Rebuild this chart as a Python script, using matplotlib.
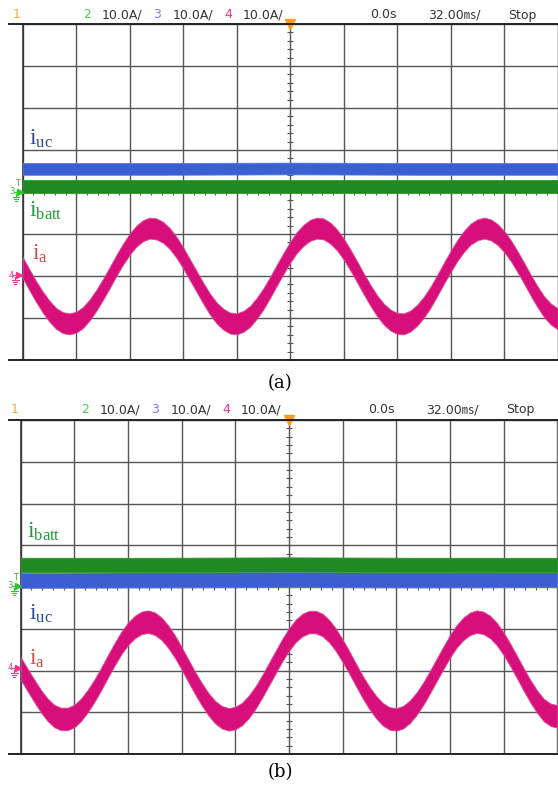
import matplotlib
matplotlib.use("Agg")
import matplotlib.pyplot as plt
from matplotlib.lines import Line2D
import numpy as np

W, H = 558, 788

# scope settings: 32 ms/div, 10 A/div, 10 x 8 divisions
t_ms = list(range(-160, 161, 4))
flat_t = [-160, -80, 0, 80, 160]

# panel (a) -- phase current ia (A, around the ch4 ground), read every 4 ms
ia_a = [2.0, -0.9, -3.7, -6.2, -8.4, -10.1, -11.1, -11.4, -11.0, -9.9,
        -8.1, -5.8, -3.2, -0.4, 2.5, 5.2, 7.6, 9.5, 10.8, 11.4,
        11.2, 10.4, 8.9, 6.8, 4.3, 1.5, -1.3, -4.1, -6.7, -8.8,
        -10.3, -11.2, -11.4, -10.8, -9.6, -7.7, -5.4, -2.7, 0.2, 3.0,
        5.7, 8.0, 9.7, 10.9, 11.4, 11.2, 10.2, 8.6, 6.4, 3.8,
        1.0, -1.9, -4.6, -7.1, -9.1, -10.5, -11.3, -11.4, -10.7, -9.3,
        -7.4, -5.0, -2.2, 0.7, 3.5, 6.1, 8.3, 10.0, 11.0, 11.4,
        11.0, 9.9, 8.2, 6.0, 3.4, 0.6, -2.3, -5.0, -7.4, -9.1,
        -10.2]
iuc_a = [5.5, 5.5, 5.6, 5.5, 5.5]
ibatt_a = [1.3, 1.3, 1.3, 1.3, 1.3]

# panel (b)
ia_b = [0.5, -2.2, -4.8, -7.3, -9.4, -10.9, -11.6, -11.6, -10.9, -9.4,
        -7.3, -4.8, -2.0, 1.0, 3.9, 6.6, 8.8, 10.4, 11.4, 11.7,
        11.2, 10.0, 8.1, 5.7, 2.9, -0.1, -3.0, -5.7, -8.1, -10.0,
        -11.2, -11.7, -11.4, -10.4, -8.7, -6.5, -3.8, -0.9, 2.0, 4.9,
        7.4, 9.5, 10.9, 11.6, 11.6, 10.9, 9.4, 7.3, 4.7, 1.9,
        -1.1, -4.0, -6.6, -8.8, -10.5, -11.5, -11.7, -11.2, -9.9, -8.0,
        -5.6, -2.8, 0.1, 3.0, 5.8, 8.2, 10.0, 11.2, 11.7, 11.4,
        10.4, 8.7, 6.4, 3.7, 0.8, -2.2, -5.0, -7.5, -9.5, -10.6,
        -11.0]
iuc_b = [1.6, 1.7, 1.8, 1.7, 1.8]
ibatt_b = [5.3, 5.3, 5.4, 5.3, 5.3]

# ripple half-width of each band (A)
ripple_a = {"ia": 2.5, "iuc": 1.4, "ibatt": 1.5}
ripple_b = {"ia": 2.7, "iuc": 1.8, "ibatt": 1.7}

ch4_zero = -20.0  # channel 4 ground is two divisions below centre

C_UC = "#3a5fd0"
C_BATT = "#1f8a1f"
C_A = "#d60f7a"

fig = plt.figure(figsize=(W / 100, H / 100), dpi=100)


def fx(x):
    return x / W


def fy(y):
    return 1 - y / H


def ground(x, y, color):
    fig.add_artist(Line2D([fx(x), fx(x)], [fy(y - 3), fy(y)], color=color, lw=0.8))
    for i, hw in enumerate([3.5, 2.3, 1.0]):
        yy = y + i * 1.8
        fig.add_artist(Line2D([fx(x - hw), fx(x + hw)], [fy(yy), fy(yy)], color=color, lw=0.8))


def header(y, dx):
    fam = ["Liberation Sans Narrow", "DejaVu Sans", "Noto Sans CJK JP"]
    items = [
        (13, "1", "#f7a541"),
        (83, "2", "#4cc84c"),
        (102, "10.0A/", "#333333"),
        (153, "3", "#6d83f2"),
        (173, "10.0A/", "#333333"),
        (224, "4", "#f0348c"),
        (243, "10.0A/", "#333333"),
        (370, "0.0s", "#333333"),
        (428, "32.00㎳/", "#333333"),
        (508, "Stop", "#333333"),
    ]
    for x, s, c in items:
        fig.text(fx(x + dx), fy(y), s, color=c, fontsize=9, family=fam,
                 ha="left", va="center")


def scope(rect_px, ia, iuc, ibatt, rip, top_y, bot_y):
    x0, y0, x1, y1 = rect_px
    ax = fig.add_axes([fx(x0), fy(y1), (x1 - x0) / W, (y1 - y0) / H])
    ax.set_xlim(-160, 160)
    ax.set_ylim(-40, 40)
    ax.set_xticks(np.arange(-160, 161, 32))
    ax.set_yticks(np.arange(-40, 41, 10))
    ax.grid(color="#555555", lw=1.0)
    ax.tick_params(length=0, labelbottom=False, labelleft=False)
    for s in ["top", "bottom"]:
        ax.spines[s].set_visible(False)
    ax.spines["left"].set_color("#333333")
    ax.spines["left"].set_linewidth(1.2)
    ax.spines["right"].set_color("#777777")

    # centre graticule ticks
    ax.plot(np.zeros(41), np.arange(-40, 41, 2), ls="none", marker="_",
            ms=4, mew=0.8, color="#555555")
    ax.plot(np.arange(-160, 161, 6.4), np.zeros(51), ls="none", marker="|",
            ms=4, mew=0.8, color="#555555")

    iuc = np.array(iuc)
    ibatt = np.array(ibatt)
    ia = np.array(ia) + ch4_zero
    ax.fill_between(flat_t, iuc - rip["iuc"], iuc + rip["iuc"], color=C_UC, lw=0.6,
                    edgecolor="#5a7ae0", zorder=3)
    ax.fill_between(flat_t, ibatt - rip["ibatt"], ibatt + rip["ibatt"], color=C_BATT,
                    lw=0.6, edgecolor="#2e9a2e", zorder=3)
    ax.fill_between(t_ms, ia - rip["ia"], ia + rip["ia"], color=C_A, lw=0.6,
                    edgecolor="#e0489a", zorder=3)

    ax.plot([0], [40], marker="v", color="#ff9a1a", ms=7, clip_on=False, zorder=5)

    fig.add_artist(Line2D([fx(9), 1], [fy(top_y), fy(top_y)], color="#222222", lw=1.4))
    fig.add_artist(Line2D([fx(9), 1], [fy(bot_y), fy(bot_y)], color="#222222", lw=1.4))
    return ax


def label(x, y, sub, color):
    fig.text(fx(x), fy(y), r"$\mathregular{i_{%s}}$" % sub, color=color,
             fontsize=17, family="Liberation Serif", ha="left", va="baseline")


def marker_pair(num, x, y, color, with_t=False):
    fig.text(fx(x), fy(y), num, color=color, fontsize=6, ha="center", va="center")
    fig.add_artist(Line2D([fx(x + 8)], [fy(y)], marker=">", ms=4, color=color, ls="none"))
    fig.add_artist(Line2D([fx(x + 2), fx(x + 8)], [fy(y), fy(y)], color=color, lw=0.8))
    ground(x + 4, y + 5, color)
    if with_t:
        fig.text(fx(x + 6), fy(y - 9), "T", color=color, fontsize=6, ha="center", va="center")


# panel (a)
header(15, 0)
scope((22.7, 24, 557.7, 360), ia_a, iuc_a, ibatt_a, ripple_a, 24, 360)
label(29, 145, "uc", "#2f4b8f")
label(29, 217, "batt", "#1f9a40")
label(32, 260, "a", "#c8504a")
marker_pair("3", 12, 192, "#33c133", with_t=True)
marker_pair("4", 11, 275, "#f0348c")
fig.text(fx(280), fy(383), "(a)", fontsize=13, family="DejaVu Serif", ha="center", va="center")

# panel (b)
header(410, -2)
scope((20.7, 420, 557.3, 754), ia_b, iuc_b, ibatt_b, ripple_b, 420, 754)
label(27, 538, "batt", "#1f9a40")
label(29, 620, "uc", "#2f4b8f")
label(29, 665, "a", "#c8504a")
marker_pair("3", 10, 586, "#33c133", with_t=True)
marker_pair("4", 10, 668, "#f0348c")
fig.text(fx(280), fy(772), "(b)", fontsize=13, family="DejaVu Serif", ha="center", va="center")

fig.savefig("out.png", dpi=100)
